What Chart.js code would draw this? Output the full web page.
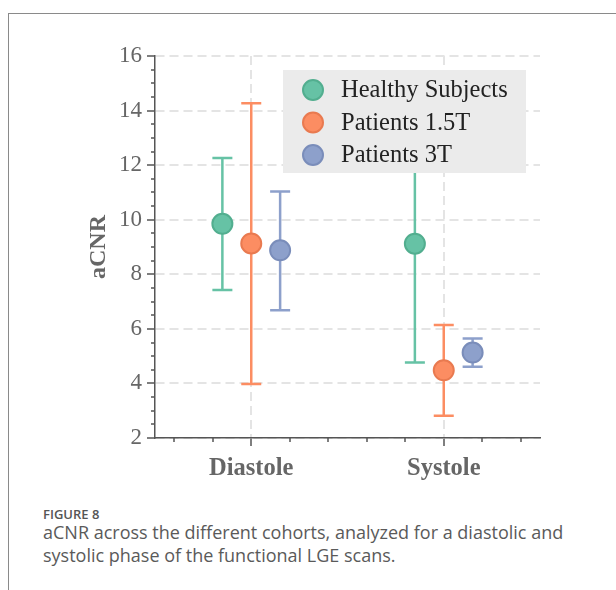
<!DOCTYPE html>
<html>
<head>
<meta charset="utf-8">
<script src="https://cdn.jsdelivr.net/npm/chart.js@4.4.1/dist/chart.umd.min.js"></script>
<style>
  html, body { margin: 0; padding: 0; background: #fff; }
  #page { position: relative; width: 616px; height: 590px; overflow: hidden; }
  #frame { position: absolute; left: 8px; top: 13px; width: 700px; height: 600px;
           border-left: 1px solid #8a8a8a; border-top: 1px solid #8a8a8a; }
  #chartBox { position: absolute; left: 0; top: 0; width: 616px; height: 490px; }
  #figLabel { position: absolute; left: 43px; top: 505px; font-family: "Open Sans", sans-serif;
              font-size: 13px; font-weight: 600; color: #555; }
  #caption { position: absolute; left: 43px; top: 521px; width: 545px; font-family: "Open Sans", sans-serif;
             font-size: 18px; line-height: 23px; color: #5a5a5a; }
</style>
</head>
<body>
<div id="page">
  <div id="frame"></div>
  <div id="chartBox"><canvas id="acnrChart" width="616" height="490"></canvas></div>
  <div id="figLabel">FIGURE 8</div>
  <div id="caption">aCNR across the different cohorts, analyzed for a diastolic and systolic phase of the functional LGE scans.</div>
</div>
<script>
// categories on the x axis
const phases = ['Diastole', 'Systole'];

// series names
const seriesNames = ['Healthy Subjects', 'Patients 1.5T', 'Patients 3T'];

// mean values and error bar ends
const healthyMean = [9.85, 9.12];
const healthyLow  = [7.42, 4.77];
const healthyHigh = [12.26, 13.47];

const pat15Mean = [9.13, 4.48];
const pat15Low  = [3.98, 2.82];
const pat15High = [14.27, 6.14];

const pat3Mean = [8.88, 5.13];
const pat3Low  = [6.68, 4.61];
const pat3High = [11.03, 5.65];

// axis ticks
const yTicks = [2, 4, 6, 8, 10, 12, 14, 16];
const xMinorTicks = [-0.4, -0.2, 0.2, 0.4, 0.6, 0.8, 1.2, 1.4];

const fills   = ['#66c2a5', '#fc8d62', '#8da0cb'];
const edges   = ['#52ae8f', '#e97a50', '#7a8dba'];
const offsets = [-0.15, 0, 0.15];

const means = [healthyMean, pat15Mean, pat3Mean];
const lows  = [healthyLow, pat15Low, pat3Low];
const highs = [healthyHigh, pat15High, pat3High];

const datasets = seriesNames.map((name, s) => ({
    label: name,
    data: means[s].map((v, i) => ({ x: i + offsets[s], y: v })),
    lows: lows[s],
    highs: highs[s],
    backgroundColor: fills[s],
    borderColor: edges[s],
    borderWidth: 2,
    pointRadius: 10,
    pointHoverRadius: 10
}));

// error bars under the markers
const errorBars = {
    id: 'errorBars',
    beforeDatasetsDraw(chart) {
        const ctx = chart.ctx;
        const xs = chart.scales.x, ys = chart.scales.y;
        chart.data.datasets.forEach((ds, s) => {
            ctx.save();
            ctx.strokeStyle = fills[s];
            ctx.lineWidth = 2.5;
            ds.data.forEach((p, i) => {
                const px = xs.getPixelForValue(p.x);
                const top = ys.getPixelForValue(ds.highs[i]);
                const bot = ys.getPixelForValue(ds.lows[i]);
                ctx.beginPath();
                ctx.moveTo(px, top); ctx.lineTo(px, bot);
                ctx.moveTo(px - 10, top); ctx.lineTo(px + 10, top);
                ctx.moveTo(px - 10, bot); ctx.lineTo(px + 10, bot);
                ctx.stroke();
            });
            ctx.restore();
        });
    }
};

// minor ticks and the legend box drawn over the data
const extras = {
    id: 'extras',
    afterDraw(chart) {
        const ctx = chart.ctx;
        const xs = chart.scales.x, ys = chart.scales.y;
        const area = chart.chartArea;
        ctx.save();
        ctx.strokeStyle = '#555';
        ctx.lineWidth = 1.5;
        ctx.beginPath();
        for (let v = 2.5; v < 16; v += 0.5) {
            if (yTicks.includes(v)) continue;
            const py = Math.round(ys.getPixelForValue(v));
            ctx.moveTo(area.left, py); ctx.lineTo(area.left - 4, py);
        }
        xMinorTicks.forEach(v => {
            const px = Math.round(xs.getPixelForValue(v));
            ctx.moveTo(px, area.bottom); ctx.lineTo(px, area.bottom + 4);
        });
        ctx.stroke();

        // legend
        const lx = area.left + 128, ly = area.top + 14;
        ctx.fillStyle = '#ebebeb';
        ctx.fillRect(lx, ly, 243, 103);
        ctx.font = '24.5px "Liberation Serif"';
        ctx.textBaseline = 'middle';
        chart.data.datasets.forEach((ds, s) => {
            const cy = ly + 20 + s * 32.5;
            ctx.beginPath();
            ctx.arc(lx + 30, cy, 10, 0, Math.PI * 2);
            ctx.fillStyle = fills[s];
            ctx.fill();
            ctx.lineWidth = 2;
            ctx.strokeStyle = edges[s];
            ctx.stroke();
            ctx.fillStyle = '#222';
            ctx.fillText(ds.label, lx + 58, cy + 1);
        });
        ctx.restore();
    }
};

const ctx = document.getElementById('acnrChart').getContext('2d');
const acnrChart = new Chart(ctx, {
    type: 'scatter',
    data: { datasets: datasets },
    plugins: [errorBars, extras],
    options: {
        responsive: false,
        animation: false,
        layout: { padding: { left: 80, right: 76, top: 56, bottom: 0 } },
        plugins: {
            legend: { display: false },
            tooltip: { enabled: false }
        },
        scales: {
            x: {
                type: 'linear',
                min: -0.5,
                max: 1.5,
                afterBuildTicks: scale => { scale.ticks = phases.map((p, i) => ({ value: i })); },
                afterFit: scale => { scale.height = 52; },
                ticks: {
                    callback: v => phases[v],
                    color: '#666',
                    padding: 8,
                    font: { family: 'Liberation Serif', size: 24.5, weight: 'bold' }
                },
                grid: { color: '#e4e4e4', lineWidth: 2, tickLength: 8, tickColor: '#555', tickWidth: 1.5 },
                border: { color: '#555', width: 1.5, dash: [9, 5] }
            },
            y: {
                min: 2,
                max: 16,
                afterBuildTicks: scale => { scale.ticks = yTicks.map(v => ({ value: v })); },
                afterFit: scale => { scale.width = 75; },
                ticks: {
                    color: '#666',
                    padding: 5,
                    font: { family: 'Liberation Serif', size: 23 }
                },
                title: {
                    display: true,
                    text: 'aCNR',
                    color: '#666',
                    padding: { top: 4, bottom: 0 },
                    font: { family: 'Liberation Serif', size: 24, weight: 'bold' }
                },
                grid: { color: '#e4e4e4', lineWidth: 2, tickLength: 8, tickColor: '#555', tickWidth: 1.5 },
                border: { color: '#555', width: 1.5, dash: [9, 5] }
            }
        }
    }
});
</script>
</body>
</html>
